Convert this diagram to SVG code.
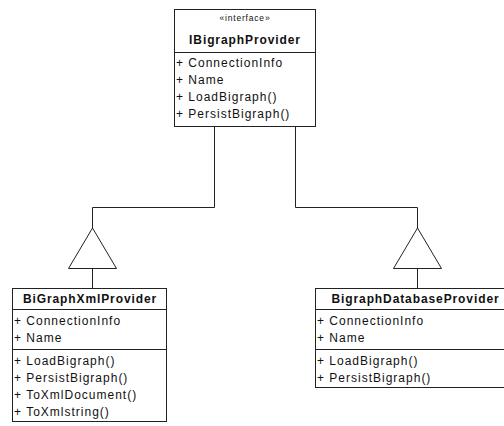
<svg xmlns="http://www.w3.org/2000/svg" width="504" height="426" viewBox="0 0 504 426">
  <style>
    .box { fill: #ffffff; stroke: #222222; stroke-width: 1; }
    .sep { stroke: #222222; stroke-width: 1; }
    .title { font-family: "Liberation Sans", Arial, sans-serif; font-size: 12px; font-weight: bold; fill: #111111; text-anchor: middle; letter-spacing: 0.9px; }
    .stereo { font-family: "Liberation Sans", Arial, sans-serif; font-size: 8.5px; fill: #111111; text-anchor: middle; letter-spacing: 0.8px; }
    .member { font-family: "Liberation Sans", Arial, sans-serif; font-size: 12px; fill: #111111; letter-spacing: 1px; }
    .edge { fill: none; stroke: #222222; stroke-width: 1; }
    .gen { fill: #ffffff; stroke: #222222; stroke-width: 1; }
  </style>

  <!-- generalization connectors -->
  <g id="connectors">
    <path class="edge" d="M214.5 127 V207.5 H92.5 V228"/>
    <path class="edge" d="M295.5 127 V207.5 H417.5 V228"/>
    <polygon class="gen" points="92.5,228 68.5,268.5 116.5,268.5"/>
    <polygon class="gen" points="417.5,228 393.5,268.5 441.5,268.5"/>
    <path class="edge" d="M92.5 268.5 V288.5"/>
    <path class="edge" d="M417.5 268.5 V288.5"/>
  </g>

  <!-- interface -->
  <g id="IBigraphProvider">
    <rect class="box" x="174.5" y="9.5" width="141" height="117"/>
    <text class="stereo" x="245" y="21">«interface»</text>
    <text class="title" x="245" y="44">IBigraphProvider</text>
    <line class="sep" x1="174.5" y1="52.5" x2="315.5" y2="52.5"/>
    <text class="member" x="176" y="67">+ ConnectionInfo</text>
    <text class="member" x="176" y="84">+ Name</text>
    <text class="member" x="176" y="101">+ LoadBigraph()</text>
    <text class="member" x="176" y="118">+ PersistBigraph()</text>
  </g>

  <!-- XML implementation -->
  <g id="BiGraphXmlProvider">
    <rect class="box" x="12.5" y="288.5" width="154" height="133"/>
    <text class="title" x="90" y="303">BiGraphXmlProvider</text>
    <line class="sep" x1="12.5" y1="309.5" x2="166.5" y2="309.5"/>
    <text class="member" x="14" y="325">+ ConnectionInfo</text>
    <text class="member" x="14" y="342">+ Name</text>
    <line class="sep" x1="12.5" y1="349.5" x2="166.5" y2="349.5"/>
    <text class="member" x="14" y="365">+ LoadBigraph()</text>
    <text class="member" x="14" y="382">+ PersistBigraph()</text>
    <text class="member" x="14" y="399">+ ToXmlDocument()</text>
    <text class="member" x="14" y="416">+ ToXmlstring()</text>
  </g>

  <!-- database implementation -->
  <g id="BigraphDatabaseProvider">
    <rect class="box" x="315.5" y="288.5" width="200" height="99"/>
    <text class="title" x="415.5" y="303">BigraphDatabaseProvider</text>
    <line class="sep" x1="315.5" y1="309.5" x2="515.5" y2="309.5"/>
    <text class="member" x="317" y="325">+ ConnectionInfo</text>
    <text class="member" x="317" y="342">+ Name</text>
    <line class="sep" x1="315.5" y1="349.5" x2="515.5" y2="349.5"/>
    <text class="member" x="317" y="365">+ LoadBigraph()</text>
    <text class="member" x="317" y="382">+ PersistBigraph()</text>
  </g>
</svg>
